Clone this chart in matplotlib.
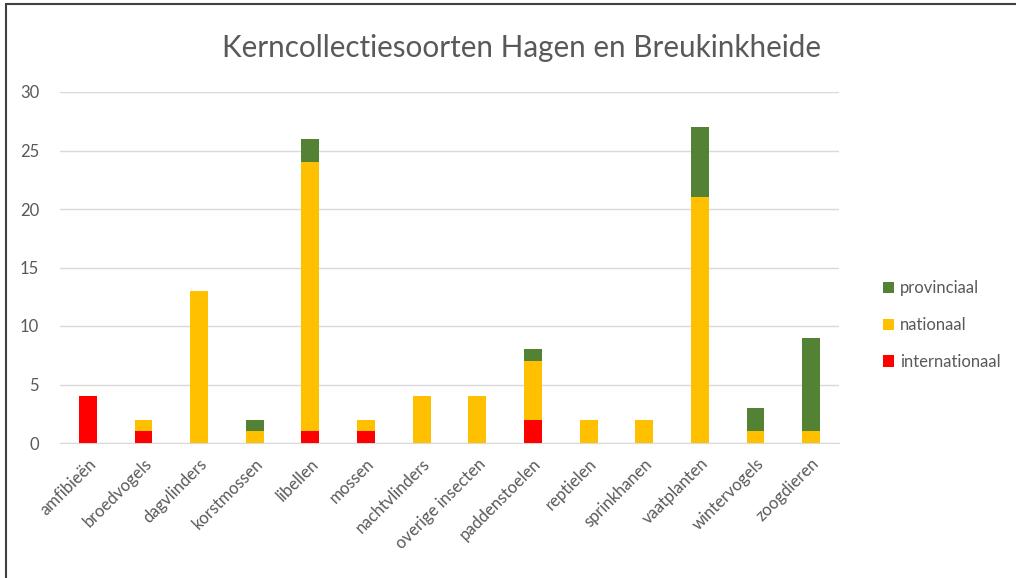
import matplotlib
matplotlib.use("Agg")
import matplotlib.pyplot as plt
from matplotlib.patches import Rectangle
import numpy as np

categories = ["amfibieën", "broedvogels", "dagvlinders", "korstmossen", "libellen",
              "mossen", "nachtvlinders", "overige insecten", "paddenstoelen",
              "reptielen", "sprinkhanen", "vaatplanten", "wintervogels", "zoogdieren"]
internationaal = [4, 1, 0, 0, 1, 1, 0, 0, 2, 0, 0, 0, 0, 0]
nationaal      = [0, 1, 13, 1, 23, 1, 4, 4, 5, 2, 2, 21, 1, 1]
provinciaal    = [0, 0, 0, 1, 2, 0, 0, 0, 1, 0, 0, 6, 2, 8]
yticks = [0, 5, 10, 15, 20, 25, 30]
title = "Kerncollectiesoorten Hagen en Breukinkheide"

plt.rcParams['font.family'] = ['Lato', 'DejaVu Sans']

fig = plt.figure(figsize=(10.16, 5.78), dpi=100)
ax = fig.add_axes([60/1016, 1-443/578, 779/1016, 351/578])

x = np.arange(len(categories))
w = 0.32
c_int, c_nat, c_prov = "#FF0000", "#FFC000", "#548235"
b1 = ax.bar(x, internationaal, w, color=c_int, label="internationaal", zorder=3)
b2 = ax.bar(x, nationaal, w, bottom=internationaal, color=c_nat, label="nationaal", zorder=3)
bottom2 = np.array(internationaal) + np.array(nationaal)
b3 = ax.bar(x, provinciaal, w, bottom=bottom2, color=c_prov, label="provinciaal", zorder=3)

ax.set_xlim(-0.5, len(categories) - 0.5)
ax.set_ylim(0, 30)
ax.set_yticks(yticks)
ax.yaxis.grid(True, color="#D9D9D9", linewidth=1, zorder=0)
for s in ["top", "right", "left"]:
    ax.spines[s].set_visible(False)
ax.spines["bottom"].set_color("#D9D9D9")
ax.tick_params(axis="both", length=0, colors="#595959", labelsize=12)
ax.tick_params(axis="y", pad=15)
ax.set_xticks(x)
ax.set_xticklabels(categories, rotation=45, ha="right", rotation_mode="anchor")
ax.tick_params(axis="x", pad=9)

fig.text(522/1016, 1-48/578, title, ha="center", va="center", fontsize=21.3, color="#595959")

handles = [b3, b2, b1]
leg = fig.legend(handles, ["provinciaal", "nationaal", "internationaal"],
                 loc="center left", bbox_to_anchor=(868/1016, 1-325/578),
                 frameon=False, fontsize=12, handlelength=0.65, handleheight=0.65,
                 handletextpad=0.35, labelspacing=1.25)
for t in leg.get_texts():
    t.set_color("#595959")

fig.patches.append(Rectangle((6/1016, -0.1), 1.2, 1.1-4/578, transform=fig.transFigure,
                             fill=False, edgecolor="#404040", linewidth=1.5))

fig.savefig("out.png", dpi=100)
